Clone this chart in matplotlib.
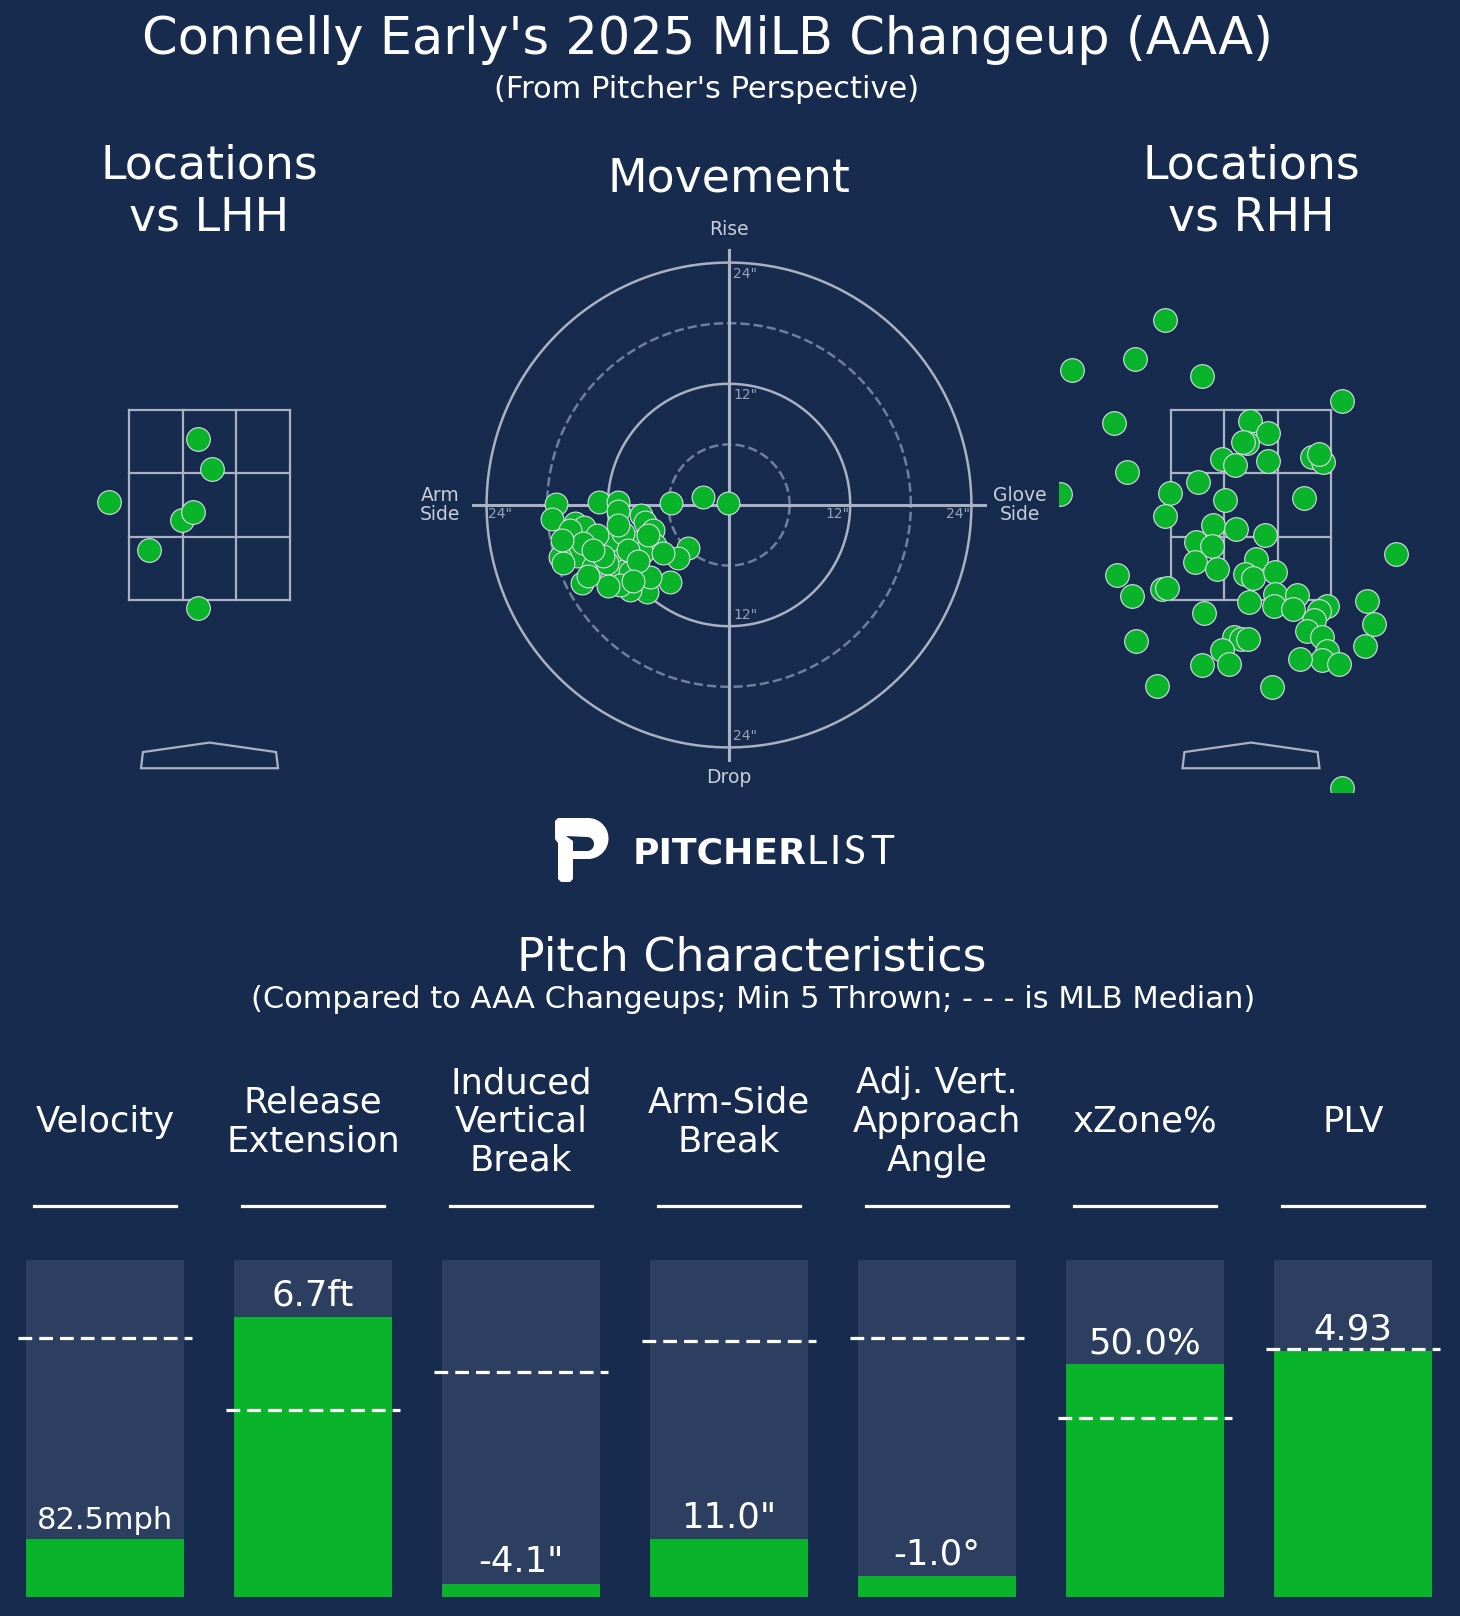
import numpy as np
import matplotlib
matplotlib.use("Agg")
from matplotlib import pyplot as plt
from matplotlib.patches import Polygon

# colours
BG = '#172b4f'
BAR_BG = '#2d3f60'
GREEN = '#09b42a'
LINE = '#a9b1c2'
TXT = '#c9ced8'

# movement data (inches, pitcher's perspective: negative = arm side)
mv_hb = [-17.1, -12.9, -11.0, -11.0, -5.7, -2.6, -0.1, -17.5, -15.2, -14.4,
         -15.7, -8.7, -8.3, -7.5, -4.1, -5.0, -5.8, -14.6, -11.1, -9.8,
         -8.1, -9.8, -10.8, -16.0, -15.0, -16.7, -16.4, -11.6, -9.3, -7.3,
         -11.8, -13.5, -12.1, -7.8, -8.6, -10.5, -13.1, -14.5, -6.5, -12.5,
         -10.0, -9.0, -11.0, -13.5, -8.0, -12.0, -9.5, -14.0, -16.5]
mv_ivb = [0.1, 0.3, 0.3, -0.6, 0.2, 0.8, 0.2, -1.4, -1.8, -2.2,
          -2.5, -1.0, -1.7, -2.5, -4.3, -5.2, -7.6, -7.7, -6.4, -6.6,
          -8.6, -8.4, -7.9, -4.7, -5.0, -5.1, -5.7, -4.7, -3.7, -4.0,
          -3.5, -6.1, -5.7, -7.1, -4.8, -2.8, -3.0, -3.8, -4.8, -5.0,
          -4.5, -5.5, -2.0, -4.5, -3.0, -8.0, -7.5, -7.0, -3.5]

# locations vs LHH (feet)
lhh_x = [-0.12, 0.03, -1.04, -0.29, -0.17, -0.63, -0.12]
lhh_z = [3.19, 2.88, 2.53, 2.34, 2.43, 2.03, 1.42]

# locations vs RHH (feet)
rhh_x = [-0.89, -1.20, -1.86, -0.51, 0.94, -1.42, -0.01, 0.18, -0.04, -0.08,
         -0.30, -0.17, 0.18, 0.63, 0.75, 0.70, -1.29, -1.98, -0.55, -0.84,
         -0.27, 0.55, -0.89, -0.39, -0.16, 0.14, -0.57, -0.40, -0.58, -0.35,
         0.05, -0.06, 0.02, 0.25, -1.39, -1.23, -0.92, -0.87, -0.02, 0.25,
         0.24, 0.48, 0.44, -0.49, 0.79, 0.70, 0.65, 1.20, 1.50, 1.28,
         1.18, 0.58, 0.74, 0.79, 0.74, 0.91, 0.51, -0.18, -0.10, -0.03,
         -0.30, -0.23, -0.51, -1.19, -0.97, 0.22, 0.94]
rhh_z = [4.45, 4.04, 3.92, 3.86, 3.59, 3.36, 3.38, 3.26, 3.15, 3.16,
         2.98, 2.92, 2.96, 3.00, 2.95, 3.04, 2.85, 2.62, 2.74, 2.63,
         2.55, 2.57, 2.38, 2.29, 2.25, 2.18, 2.11, 2.07, 1.90, 1.83,
         1.93, 1.77, 1.73, 1.79, 1.76, 1.54, 1.62, 1.63, 1.48, 1.56,
         1.44, 1.55, 1.41, 1.36, 1.44, 1.38, 1.29, 1.49, 1.98, 1.25,
         1.02, 1.17, 1.11, 0.96, 0.87, 0.83, 0.88, 1.11, 1.09, 1.09,
         0.97, 0.83, 0.82, 1.07, 0.59, 0.58, -0.48]

# pitch characteristics
metrics = ['Velocity', 'Release\nExtension', 'Induced\nVertical\nBreak',
           'Arm-Side\nBreak', 'Adj. Vert.\nApproach\nAngle', 'xZone%', 'PLV']
value_labels = ['82.5mph', '6.7ft', '-4.1"', '11.0"', '-1.0°', '50.0%', '4.93']
percentile = [0.172, 0.832, 0.040, 0.172, 0.062, 0.690, 0.730]
median_pct = [0.770, 0.555, 0.668, 0.760, 0.769, 0.530, 0.735]

W, H = 1460, 1616
fig = plt.figure(figsize=(W / 100, H / 100), dpi=100, facecolor=BG)


def px_axes(l, t, r, b):
    ax = fig.add_axes([l / W, 1 - b / H, (r - l) / W, (b - t) / H])
    ax.set_facecolor(BG)
    ax.axis('off')
    return ax


def ftext(x, y, s, ha='center', **kw):
    fig.text(x / W, 1 - y / H, s, ha=ha, va='center', **kw)


# titles
ftext(707, 40, "Connelly Early's 2025 MiLB Changeup (AAA)", fontsize=36.7, color='white')
ftext(707, 90, "(From Pitcher's Perspective)", fontsize=22, color='white')
ftext(209, 192, "Locations\nvs LHH", fontsize=33, color='white')
ftext(729, 179, "Movement", fontsize=33, color='white')
ftext(1251, 192, "Locations\nvs RHH", fontsize=33, color='white')
ftext(752, 958, "Pitch Characteristics", fontsize=33, color='white')
ftext(753, 1000, "(Compared to AAA Changeups; Min 5 Thrown; - - - is MLB Median)",
      fontsize=22, color='white')

# movement plot
ax = px_axes(459, 235, 999, 775)
lim = 26.73
ax.set_xlim(-lim, lim)
ax.set_ylim(-lim, lim)
th = np.linspace(0, 2 * np.pi, 400)
for r, ls, c in [(6, '--', '#6f7f9c'), (12, '-', LINE), (18, '--', '#6f7f9c'), (24, '-', LINE)]:
    ax.plot(r * np.cos(th), r * np.sin(th), ls=ls, color=c, lw=1.8, zorder=1)
ax.plot([-25.3, 25.3], [0, 0], color=LINE, lw=2.2, zorder=1)
ax.plot([0, 0], [-25.2, 25.2], color=LINE, lw=2.2, zorder=1)
for r in (12, 24):
    ax.text(r - 1.3, -0.9, f'{r}"', color='#9aa3b5', fontsize=10, ha='center', va='center', zorder=1)
    ax.text(-(r - 1.3), -0.9, f'{r}"', color='#9aa3b5', fontsize=10, ha='center', va='center', zorder=1)
    ax.text(1.6, r - 1.1, f'{r}"', color='#9aa3b5', fontsize=10, ha='center', va='center', zorder=1)
    ax.text(1.6, -(r - 1.1), f'{r}"', color='#9aa3b5', fontsize=10, ha='center', va='center', zorder=1)
ax.text(0, 27.3, 'Rise', color=TXT, fontsize=13.5, ha='center', va='center', clip_on=False)
ax.text(0, -27.0, 'Drop', color=TXT, fontsize=13.5, ha='center', va='center', clip_on=False)
ax.text(-28.6, 0, 'Arm\nSide', color=TXT, fontsize=13.5, ha='center', va='center',
        clip_on=False, linespacing=1.05)
ax.text(28.8, 0, 'Glove\nSide', color=TXT, fontsize=13.5, ha='center', va='center',
        clip_on=False, linespacing=1.05)
ax.scatter(mv_hb, mv_ivb, s=270, color=GREEN, edgecolor='#d8dde6', linewidth=0.8, zorder=3)


# location plots
def location_panel(l, r, xlim, xs, zs):
    a = px_axes(l, 292, r, 792)
    a.set_xlim(*xlim)
    a.set_ylim(-0.52, 4.74)
    zx = [-0.83, -0.277, 0.277, 0.83]
    zz = [1.5, 2.167, 2.833, 3.5]
    for x in zx:
        a.plot([x, x], [1.5, 3.5], color=LINE, lw=1.6, zorder=1)
    for z in zz:
        a.plot([-0.83, 0.83], [z, z], color=LINE, lw=1.6, zorder=1)
    plate = [(-0.71, -0.27), (0.71, -0.27), (0.69, -0.1), (0, 0.0), (-0.69, -0.1)]
    a.add_patch(Polygon(plate, closed=True, fill=False, edgecolor=LINE, lw=1.6, zorder=1))
    a.scatter(xs, zs, s=290, color=GREEN, edgecolor='#d8dde6', linewidth=0.8, zorder=3)


location_panel(12, 407, (-2.047, 2.047), lhh_x, lhh_z)
location_panel(1059, 1454, (-1.99, 2.104), rhh_x, rhh_z)

# logo
lg = px_axes(540, 800, 920, 900)
lg.set_xlim(540, 920)
lg.set_ylim(900, 800)
t = np.linspace(np.pi / 2, -np.pi / 2, 40)
bowl = list(zip(588 + 20.5 * np.cos(t), 838.5 - 20.5 * np.sin(t)))
outer = [(555, 821), (558, 818)] + bowl + [(573, 859), (573, 879), (570, 882),
                                           (561, 882), (558, 879), (558, 843), (555, 839)]
lg.add_patch(Polygon(outer, closed=True, facecolor='white', edgecolor='none'))
hole = list(zip(587 + 7 * np.cos(t), 844 - 7 * np.sin(t)))
lg.add_patch(Polygon([(566, 836)] + hole + [(573, 851), (573, 841)],
                     closed=True, facecolor=BG, edgecolor='none'))
ftext(633, 853, 'PITCHER', ha='left', fontsize=26, color='white', fontweight='bold',
      family='DejaVu Sans')
for ch, cx in zip('LIST', [817, 835, 855, 882]):
    ftext(cx, 853, ch, fontsize=29, color='white', family='Lato')

# pitch characteristic bars
bx = px_axes(1, 1050, 1457, 1597)
bx.set_xlim(-0.5, 6.5)
bx.set_ylim(0, (1597 - 1050) / 337)
idx = np.arange(len(metrics))
bx.bar(idx, [1] * len(idx), width=0.755, color=BAR_BG, align='center', zorder=1)
bx.bar(idx, percentile, width=0.755, color=GREEN, align='center', zorder=2)
label_sizes = [22, 25.6, 25.6, 25.6, 25.6, 25.6, 25.6]
for i in idx:
    bx.plot([i - 0.418, i + 0.418], [median_pct[i]] * 2, color='white', lw=2.3,
            ls=(0, (4.3, 2.2)), zorder=3)
    bx.text(i, percentile[i] + 0.013, value_labels[i], color='white', fontsize=label_sizes[i],
            ha='center', va='bottom', zorder=4)
    bx.text(i, (1597 - 1122) / 337, metrics[i], color='white', fontsize=25.5,
            ha='center', va='center', linespacing=1.18)
    bx.plot([i - 0.342, i + 0.342], [(1597 - 1206) / 337] * 2, color='white', lw=2.3)

fig.savefig('out.png', dpi=100, facecolor=BG)
